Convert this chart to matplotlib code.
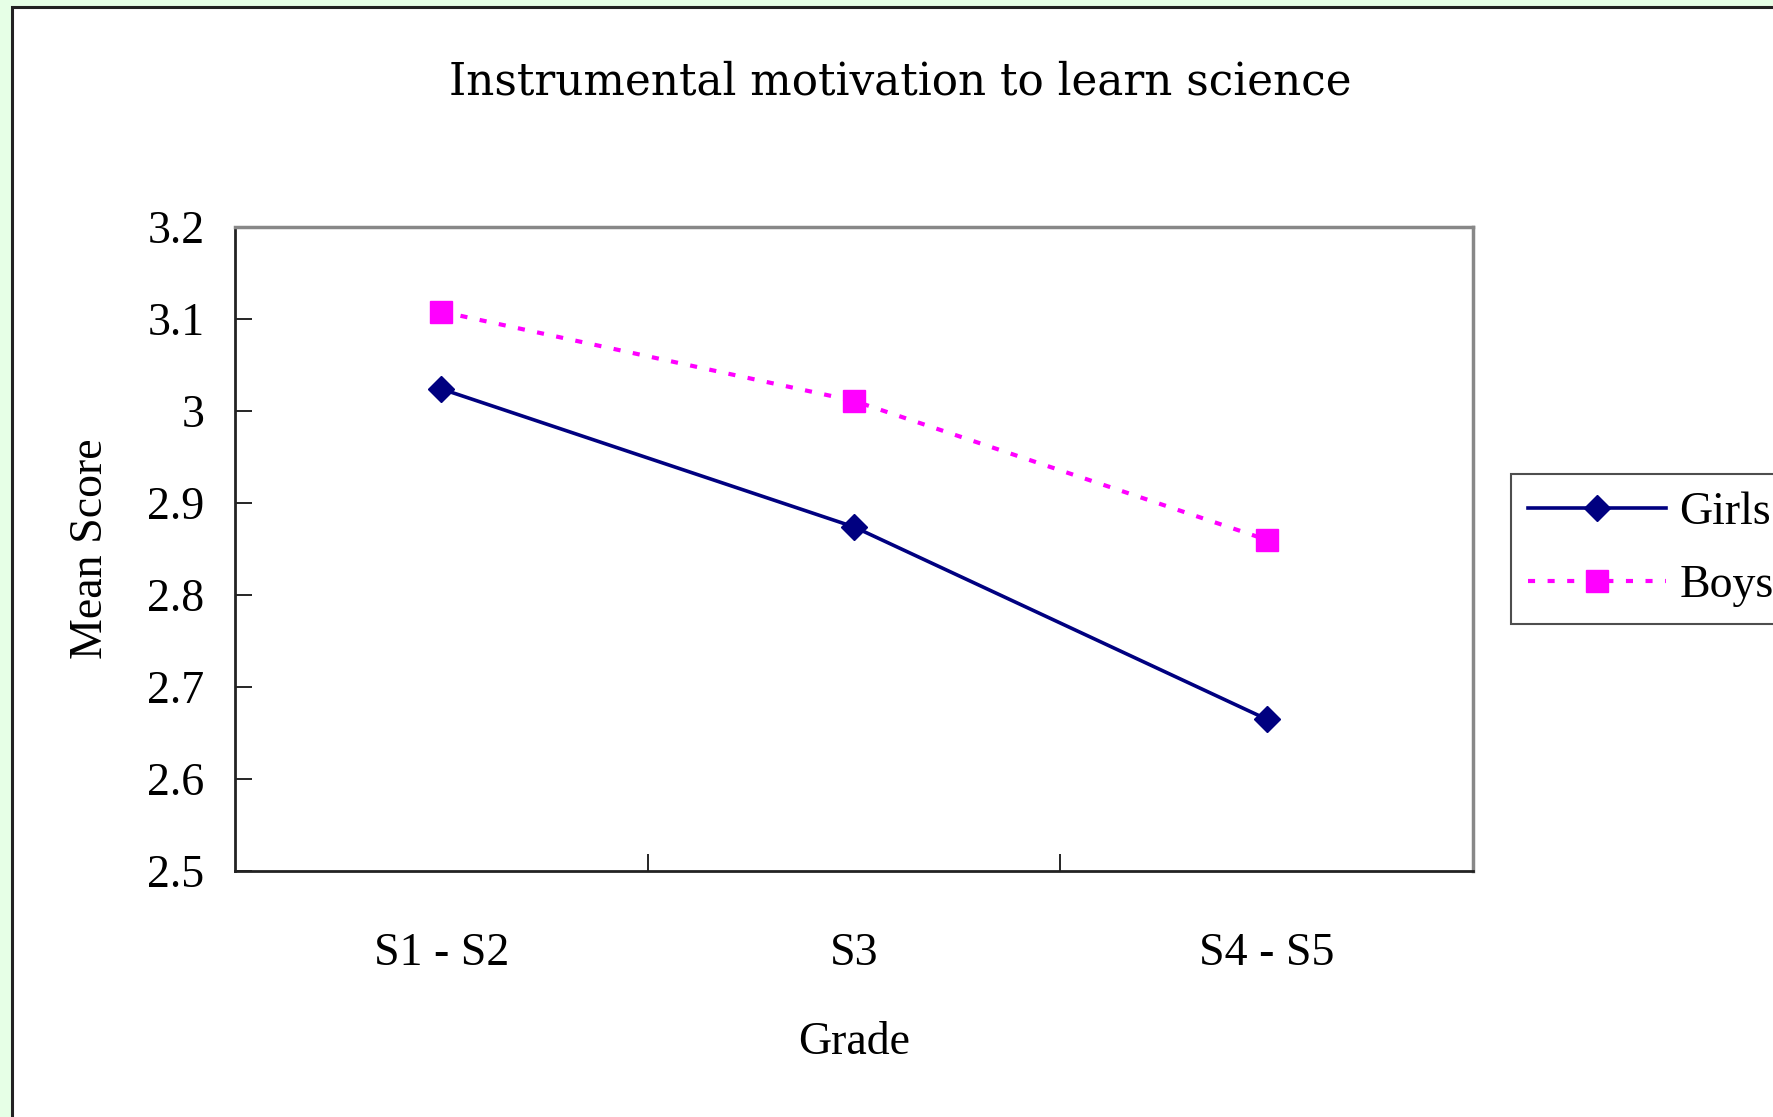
import matplotlib
matplotlib.use("Agg")
import matplotlib.pyplot as plt
from matplotlib.patches import Rectangle

grades = ["S1 - S2", "S3", "S4 - S5"]
girls = [3.024, 2.874, 2.665]
boys = [3.108, 3.011, 2.860]
yticks = [2.5, 2.6, 2.7, 2.8, 2.9, 3.0, 3.1, 3.2]
ytick_labels = ["2.5", "2.6", "2.7", "2.8", "2.9", "3", "3.1", "3.2"]

plt.rcParams['font.family'] = ['Liberation Serif', 'DejaVu Serif']

fig = plt.figure(figsize=(17.73, 11.17), dpi=100)
fig.patch.set_facecolor('#e6ffe6')
# white chart area with a dark frame, running off the right and bottom edges
fig.patches.append(Rectangle((12 / 1773, -0.01), 1.02, 1 - 7 / 1117 + 0.01,
                             transform=fig.transFigure, facecolor='white',
                             edgecolor='#222222', linewidth=2.2, zorder=-10))

ax = fig.add_axes([235 / 1773, 1 - 871 / 1117, (1473 - 235) / 1773, (871 - 227) / 1117])
ax.set_facecolor('white')
x = list(range(len(grades)))
ax.plot(x, girls, color='#000080', linewidth=2.6, marker='D', markersize=13.5,
        label='Girls', zorder=3)
ax.plot(x, boys, color='#ff00ff', linewidth=3, linestyle=(0, (1.7, 3.0)),
        marker='s', markersize=16, label='Boys', zorder=3)

ax.set_xlim(-0.5, 2.5)
ax.set_ylim(2.5, 3.2)
ax.set_yticks(yticks)
ax.set_yticklabels(ytick_labels)
ax.set_xticks(x)
ax.set_xticklabels(grades)
ax.set_xticks([0.5, 1.5], minor=True)
ax.tick_params(axis='x', which='major', length=0, pad=44, labelsize=33)
ax.tick_params(axis='x', which='minor', direction='in', length=12, width=1.2)
ax.tick_params(axis='y', direction='in', length=12, width=1.2, pad=22, labelsize=33)

for s in ['left', 'bottom']:
    ax.spines[s].set_color('#222222')
    ax.spines[s].set_linewidth(2)
for s in ['top', 'right']:
    ax.spines[s].set_color('#888888')
    ax.spines[s].set_linewidth(2.5)

ax.set_xlabel('Grade', fontsize=33, labelpad=34)
ax.set_ylabel('Mean Score', fontsize=33, labelpad=25)

fig.text(900 / 1773, 1 - 82 / 1117, 'Instrumental motivation to learn science',
         ha='center', va='center', fontsize=31.5, family='DejaVu Serif')

leg = ax.legend(loc='center left', bbox_to_anchor=(1.031, 0.50), fontsize=33,
                frameon=True, fancybox=False, edgecolor='#222222',
                handlelength=3.0, borderpad=0.37, labelspacing=0.67,
                handletextpad=0.3, borderaxespad=0)
leg.get_frame().set_linewidth(1.5)

fig.savefig('out.png', dpi=100, facecolor=fig.get_facecolor())
